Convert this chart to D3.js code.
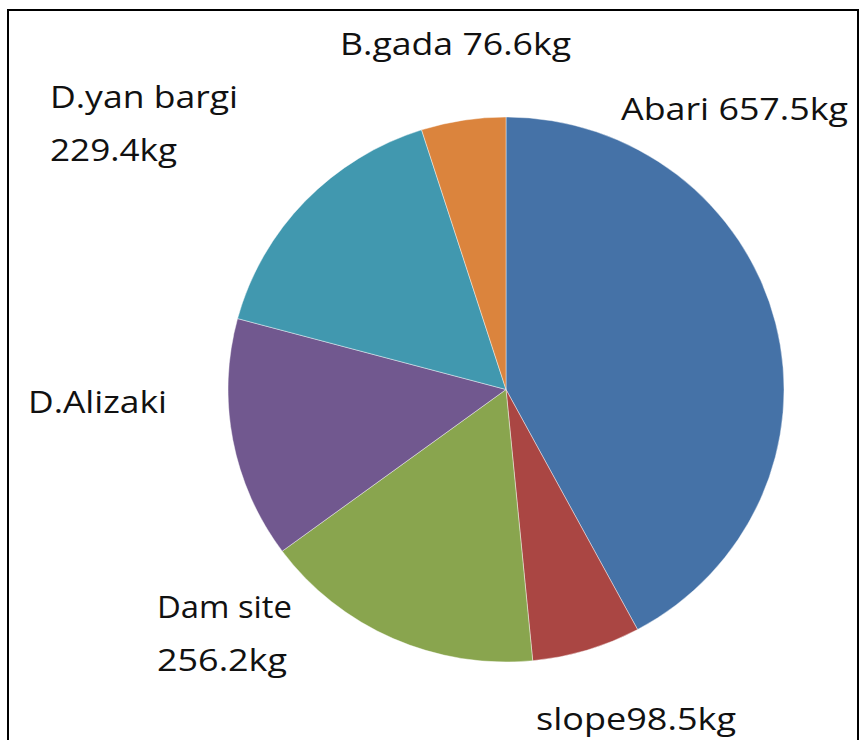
<!DOCTYPE html>
<html>
<head>
<meta charset="utf-8">
<script src="https://cdn.jsdelivr.net/npm/d3@7"></script>
<style>
  html, body { margin: 0; padding: 0; background: #fff; }
  svg { display: block; }
</style>
</head>
<body>
<svg id="chart" width="862" height="740"></svg>
<script>
// Data (clockwise from 12 o'clock)
const categories = ["Abari", "slope", "Dam site", "D.Alizaki", "D.yan bargi", "B.gada"];
const values = [657.5, 98.5, 256.2, 223.0, 248.0, 76.6];
const colors = ["#4572A7", "#AA4643", "#89A54E", "#71588F", "#4198AF", "#DB843D"];
// Label lines as written on the chart
const labelLines = [
  ["Abari 657.5kg"],
  ["slope98.5kg"],
  ["Dam site", "256.2kg"],
  ["D.Alizaki"],
  ["D.yan bargi", "229.4kg"],
  ["B.gada 76.6kg"]
];

const svg = d3.select("#chart");

// frame
svg.append("path")
  .attr("d", "M8,745 L8,10 L858,10 L858,745")
  .attr("fill", "none")
  .attr("stroke", "#000")
  .attr("stroke-width", 2);

const cx = 506, cy = 389.5, rx = 278, ry = 272.5;

const pie = d3.pie().sort(null).value(d => d.value);
const arc = d3.arc().innerRadius(0).outerRadius(ry);

const data = categories.map((c, i) => ({ name: c, value: values[i], color: colors[i] }));

const g = svg.append("g")
  .attr("transform", `translate(${cx},${cy}) scale(${rx / ry},1)`);

g.selectAll("path.slice")
  .data(pie(data))
  .join("path")
  .attr("class", "slice")
  .attr("d", arc)
  .attr("fill", d => d.data.color)
  .attr("stroke", "#ffffff")
  .attr("stroke-width", 0.6)
  .attr("stroke-opacity", 0.7);

// label layout (positions of the text blocks)
const labelPos = [
  { x: 621, y: 120, w: [227] },
  { x: 536, y: 730, w: [200] },
  { x: 157, y: 618, w: [135, 130] },
  { x: 28,  y: 413, w: [139] },
  { x: 50,  y: 108, w: [188, 127] },
  { x: 340, y: 55,  w: [231] }
];

const lineGap = 53;
labelLines.forEach((lines, i) => {
  const p = labelPos[i];
  lines.forEach((t, j) => {
    svg.append("text")
      .attr("x", p.x)
      .attr("y", p.y + j * lineGap)
      .attr("font-family", "'Open Sans', 'Noto Sans', sans-serif")
      .attr("font-size", 31)
      .attr("fill", "#111")
      .attr("textLength", p.w[j])
      .attr("lengthAdjust", "spacingAndGlyphs")
      .text(t);
  });
});
</script>
</body>
</html>
